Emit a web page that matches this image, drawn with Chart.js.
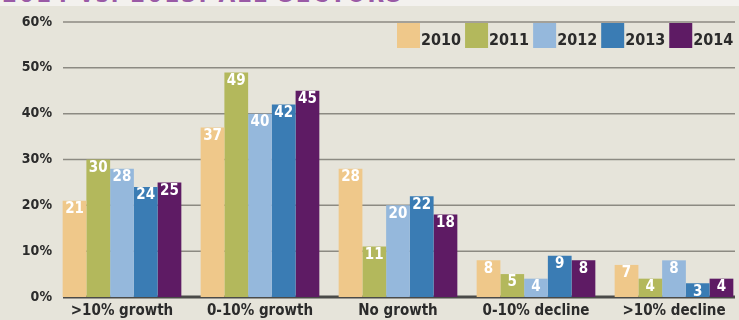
<!DOCTYPE html>
<html>
<head>
<meta charset="utf-8">
<script src="https://cdn.jsdelivr.net/npm/chart.js@4"></script>
<style>
  html, body { margin: 0; padding: 0; overflow: hidden; background: #e6e4da; }
  #wrap { position: relative; width: 745px; height: 326px; }
  #title {
    position: absolute; left: 0; top: 0; width: 739px; height: 6px; overflow: hidden;
    background: #f3f1ee; z-index: 2;
  }
  #title span {
    position: absolute; left: 2px; top: -20px; white-space: nowrap;
    font: bold 24px "DejaVu Sans Condensed", "DejaVu Sans", sans-serif; color: #9a5aa6; letter-spacing: 2px;
  }
</style>
</head>
<body>
<div id="wrap">
  <div id="title"><span>2014 vs. 2013: ALL SECTORS</span></div>
  <canvas id="chart"></canvas>
</div>
<script>
const FONT = '"DejaVu Sans Condensed", "DejaVu Sans", sans-serif';

// data
const categories = [">10% growth", "0-10% growth", "No growth", "0-10% decline", ">10% decline"];
const years = ["2010", "2011", "2012", "2013", "2014"];
const values2010 = [21, 37, 28, 8, 7];
const values2011 = [30, 49, 11, 5, 4];
const values2012 = [28, 40, 20, 4, 8];
const values2013 = [24, 42, 22, 9, 3];
const values2014 = [25, 45, 18, 8, 4];
const yTicks = [0, 10, 20, 30, 40, 50, 60];

const colors = ["#efc88a", "#b3b85c", "#95b8dc", "#3a7cb4", "#5e1b64"];
const series = [values2010, values2011, values2012, values2013, values2014];

// grid lines + dark base line, drawn behind the bars
const gridPlugin = {
  id: "grid",
  beforeDatasetsDraw(chart) {
    const { ctx, chartArea, scales } = chart;
    const x0 = chartArea.left + 10, x1 = chartArea.right - 8;
    ctx.save();
    yTicks.forEach(t => {
      const y = scales.y.getPixelForValue(t);
      ctx.beginPath();
      ctx.strokeStyle = t === 0 ? "#4a4a48" : "#8c8a82";
      ctx.lineWidth = t === 0 ? 3 : 1.5;
      ctx.moveTo(x0, y);
      ctx.lineTo(x1, y);
      ctx.stroke();
    });
    ctx.restore();
  }
};

// white value labels at the top of each bar
const valueLabels = {
  id: "valueLabels",
  afterDatasetsDraw(chart) {
    const { ctx } = chart;
    ctx.save();
    ctx.font = "bold 15px " + FONT;
    ctx.fillStyle = "#ffffff";
    ctx.textAlign = "center";
    ctx.textBaseline = "top";
    chart.data.datasets.forEach((ds, i) => {
      chart.getDatasetMeta(i).data.forEach((bar, j) => {
        ctx.fillText(String(ds.data[j]), bar.x, bar.y + 1);
      });
    });
    ctx.restore();
  }
};

// legend in the top right corner
const legendPlugin = {
  id: "legendBoxes",
  afterDraw(chart) {
    const { ctx } = chart;
    ctx.save();
    ctx.font = "bold 16px " + FONT;
    ctx.textBaseline = "bottom";
    ctx.textAlign = "left";
    let x = 397;
    const top = 23, h = 25;
    chart.data.datasets.forEach(ds => {
      ctx.fillStyle = ds.backgroundColor;
      ctx.fillRect(x, top, 23, h);
      x += 24;
      ctx.fillStyle = "#2b2b2b";
      ctx.fillText(ds.label, x, top + h + 1);
      x += ctx.measureText(ds.label).width + 4;
    });
    ctx.restore();
  }
};

const chart = new Chart(document.getElementById("chart"), {
  type: "bar",
  data: {
    labels: categories,
    datasets: years.map((y, i) => ({
      label: y,
      data: series[i],
      backgroundColor: colors[i],
      borderWidth: 0,
      categoryPercentage: 0.86,
      barPercentage: 1.0
    }))
  },
  options: {
    responsive: true,
    maintainAspectRatio: false,
    animation: false,
    devicePixelRatio: 1,
    layout: { padding: { top: 22, right: 2, left: 0, bottom: 0 } },
    plugins: {
      legend: { display: false },
      tooltip: { enabled: false }
    },
    scales: {
      x: {
        grid: { display: false, drawTicks: false },
        border: { display: false },
        ticks: {
          color: "#2b2b2b",
          font: { family: FONT, size: 15, weight: "bold", lineHeight: 1.0 },
          padding: 7
        }
      },
      y: {
        min: 0,
        max: 60,
        grid: { display: false, drawTicks: false },
        border: { display: false },
        afterFit(scale) { scale.width = 53; },
        ticks: {
          stepSize: 10,
          padding: 1,
          color: "#2b2b2b",
          font: { family: FONT, size: 14, weight: "bold" },
          callback: v => v + "%"
        }
      }
    }
  },
  plugins: [gridPlugin, valueLabels, legendPlugin]
});
</script>
</body>
</html>
